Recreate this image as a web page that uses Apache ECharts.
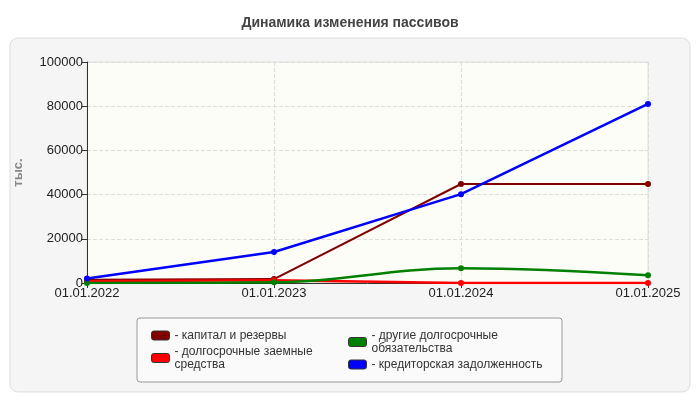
<!DOCTYPE html>
<html><head><meta charset="utf-8">
<script src="https://cdn.jsdelivr.net/npm/echarts@6/dist/echarts.min.js"></script>
<style>body{margin:0;background:#fff}#c{width:700px;height:400px}</style>
</head><body><div id="c"></div>
<script>
var dates = ['01.01.2022', '01.01.2023', '01.01.2024', '01.01.2025'];
var kapital = [1500, 1800, 44800, 44800];
var dolgZaem = [800, 1200, 0, 0];
var drugieDolg = [0, 300, 6700, 3500];
var kreditor = [2000, 14000, 40200, 81000];

var names = ['- капитал и резервы', '- долгосрочные заемные\nсредства', '- другие долгосрочные\nобязательства', '- кредиторская задолженность'];
var colors = ['#800000', '#ff0000', '#008000', '#0000ff'];
var vals = [kapital, dolgZaem, drugieDolg, kreditor];

var myChart = echarts.init(document.getElementById('c'));
var series = [];
for (var i = 0; i < 4; i++) {
    series.push({
        name: names[i], type: 'line', data: vals[i],
        smooth: i == 2 ? 0.4 : false,
        symbol: 'circle', symbolSize: 6,
        itemStyle: {color: colors[i]},
        lineStyle: {width: i == 0 ? 2 : 2.5, color: colors[i]}
    });
}
var legendBase = {
    orient: 'vertical', itemWidth: 18, itemHeight: 9, itemGap: 3,
    icon: 'roundRect',
    itemStyle: {borderColor: '#333', borderWidth: 1},
    textStyle: {fontFamily: 'Liberation Sans', fontSize: 12, color: '#333', lineHeight: 13}
};
myChart.setOption({
    animation: false,
    title: {text: 'Динамика изменения пассивов', left: 'center', top: 11,
        textStyle: {fontFamily: 'Liberation Sans', fontSize: 14, fontWeight: 'bold', color: '#444'}},
    graphic: [
        {type: 'rect', shape: {x: 10, y: 38, width: 680, height: 354, r: 8}, style: {fill: '#f5f5f5', stroke: '#ddd'}, z: -10},
        {type: 'rect', shape: {x: 137, y: 318, width: 425, height: 64, r: 3}, style: {fill: '#fafafa', stroke: '#999'}, z: -5}
    ],
    grid: {left: 87, right: 52, top: 62, bottom: 117, show: true, backgroundColor: '#fdfdf7', borderColor: '#ddd'},
    legend: [
        Object.assign({left: 146, top: 324, data: [names[0], names[1]]}, legendBase),
        Object.assign({left: 343, top: 324, data: [names[2], names[3]]}, legendBase)
    ],
    xAxis: {type: 'category', data: dates, boundaryGap: false,
        axisLine: {lineStyle: {color: '#333'}}, axisTick: {show: true, lineStyle: {color: '#333'}},
        axisLabel: {fontFamily: 'Liberation Sans', fontSize: 13, color: '#222', margin: 4},
        splitLine: {show: true, lineStyle: {type: 'dashed', color: '#ddd'}}},
    yAxis: {type: 'value', min: 0, max: 100000, interval: 20000,
        name: 'тыс.', nameLocation: 'middle', nameGap: 62,
        nameTextStyle: {fontFamily: 'Liberation Sans', fontSize: 13, fontWeight: 'bold', color: '#888'},
        axisLine: {show: true, lineStyle: {color: '#333'}}, axisTick: {show: true, lineStyle: {color: '#333'}},
        axisLabel: {fontFamily: 'Liberation Sans', fontSize: 13, color: '#222', margin: 4,
            formatter: function (v) { return String(v); }},
        splitLine: {lineStyle: {type: 'dashed', color: '#ddd'}}},
    series: series
});
</script></body></html>
